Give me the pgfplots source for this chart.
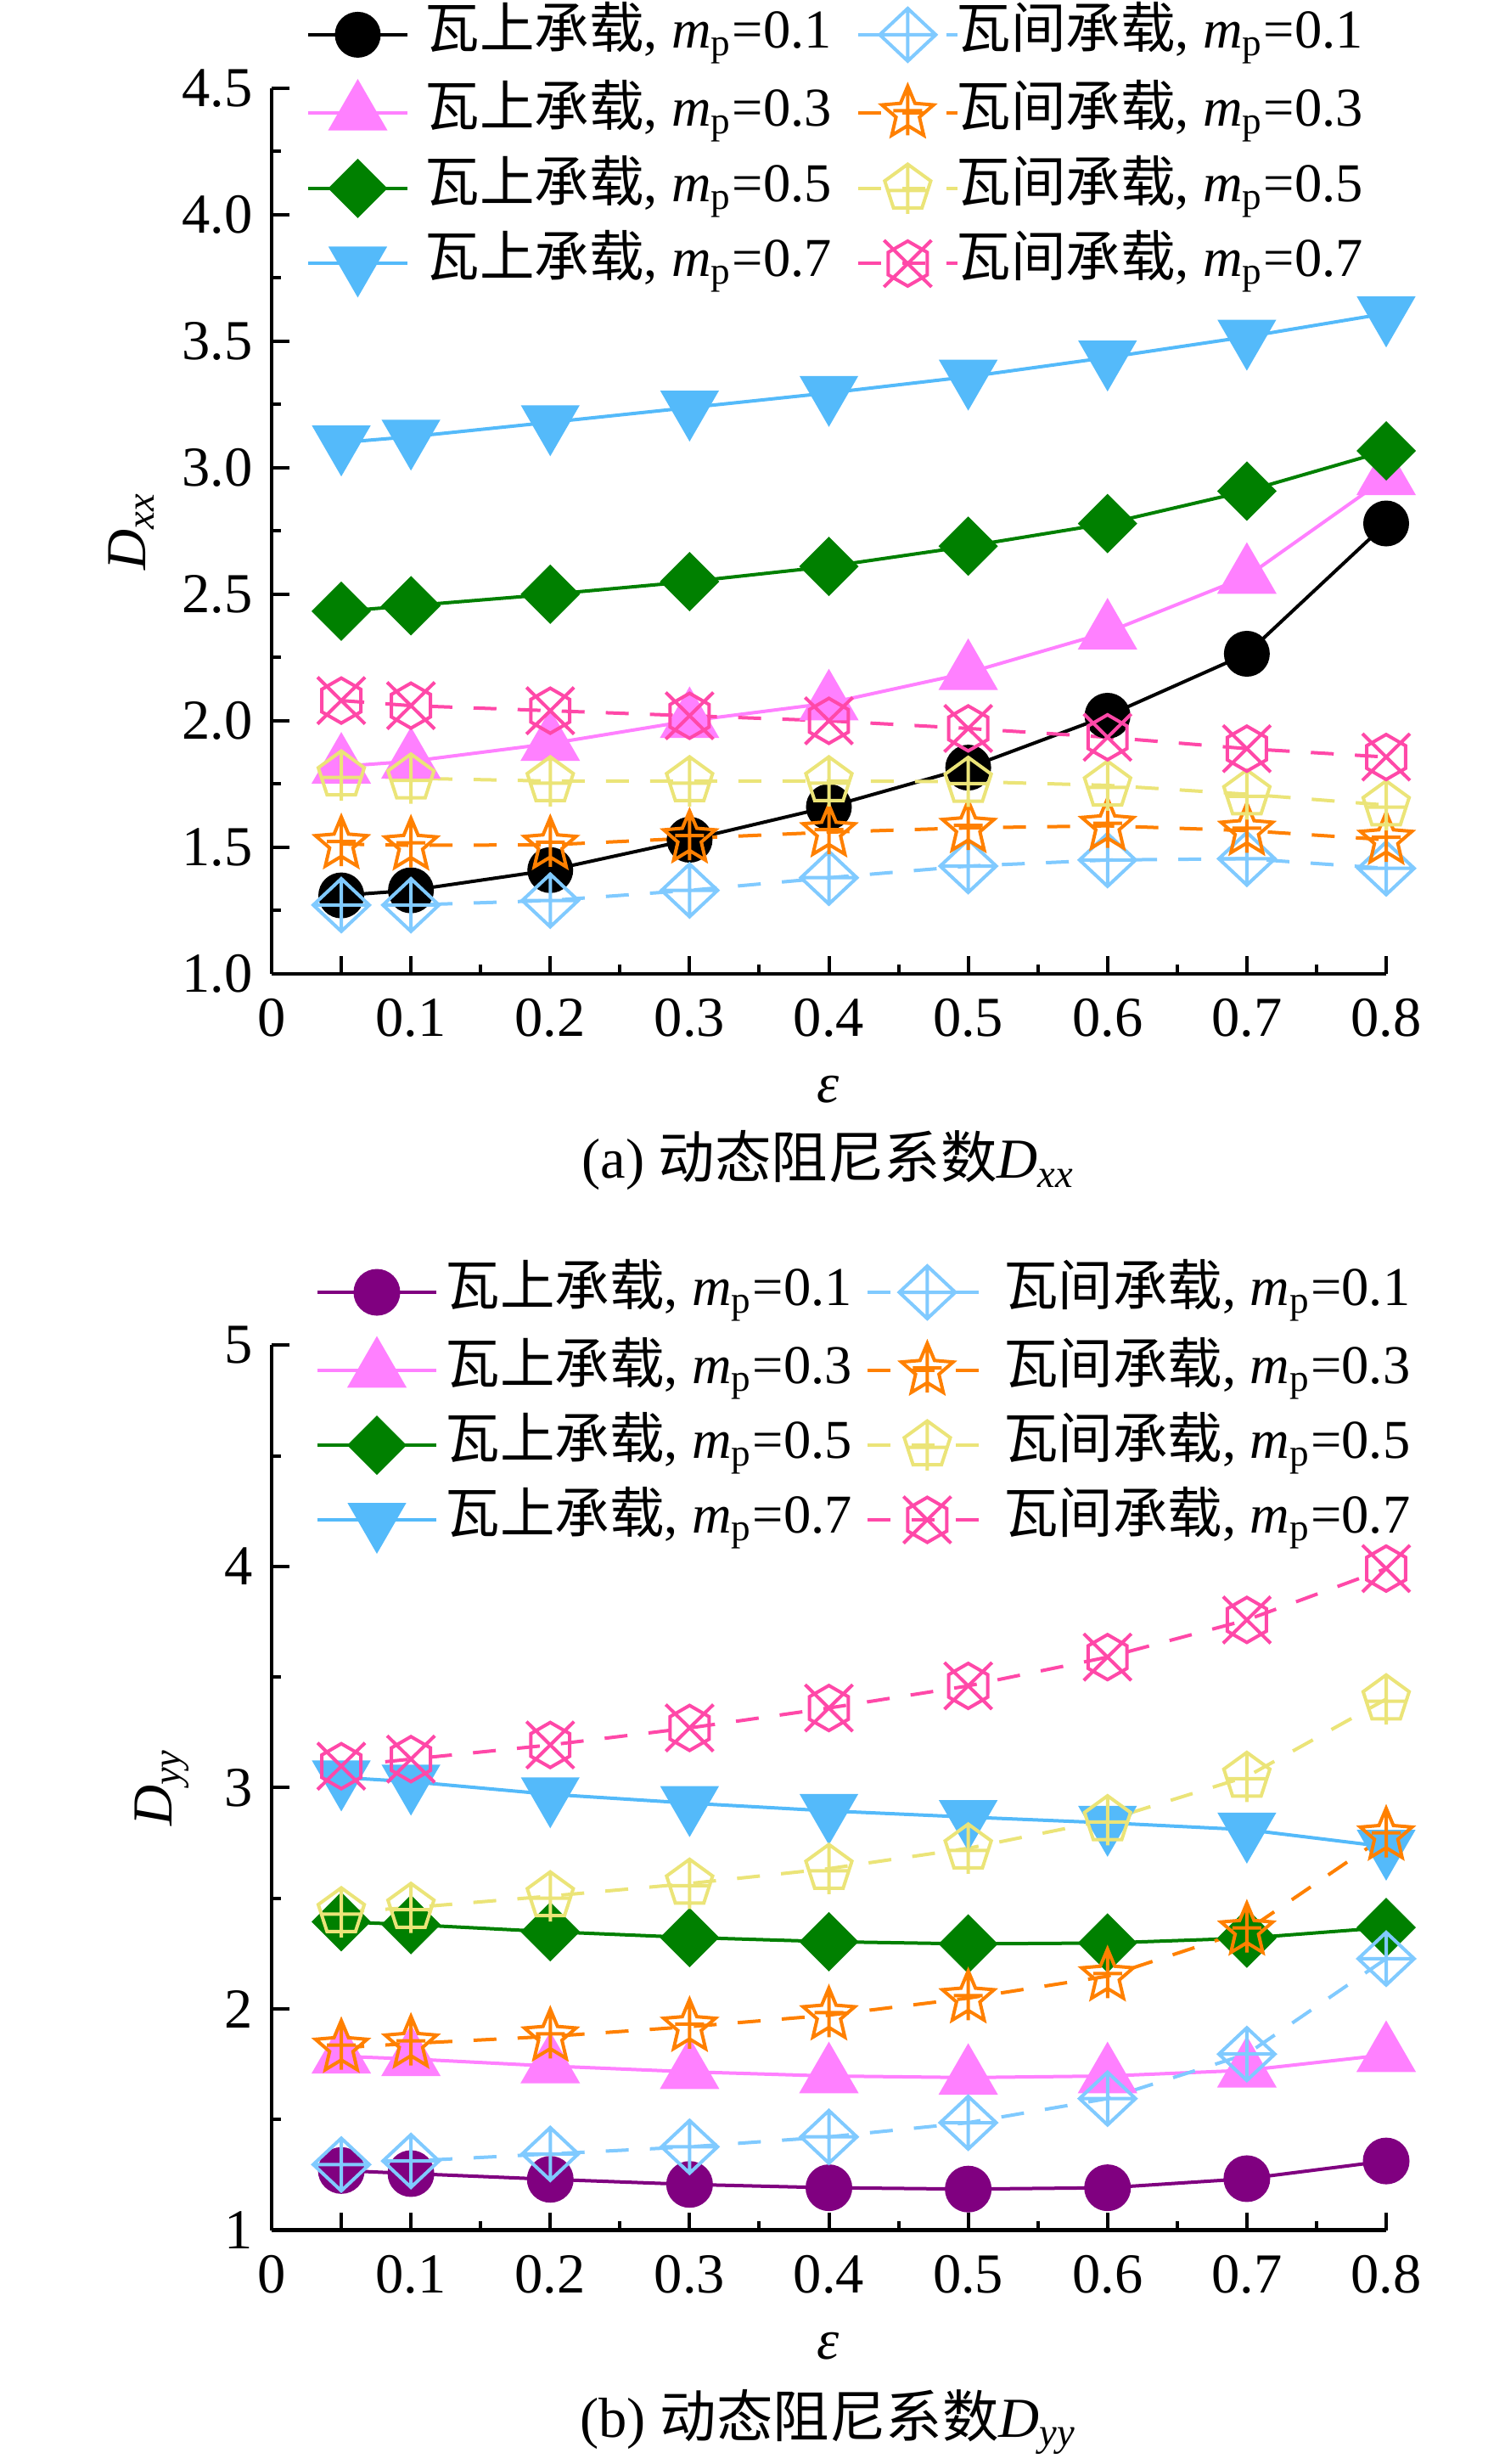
\documentclass[border=0pt]{standalone}
\usepackage{fontspec}
\setmainfont{Liberation Serif}
\newfontfamily\cjk{Noto Sans CJK SC}
\usepackage{pgfplots}
\pgfplotsset{compat=1.18}
\usetikzlibrary{plotmarks}

\definecolor{cblack}{RGB}{0,0,0}
\definecolor{cpink}{RGB}{255,128,255}
\definecolor{cgreen}{RGB}{0,128,0}
\definecolor{cblue}{RGB}{84,186,250}
\definecolor{clblue}{RGB}{128,202,255}
\definecolor{corange}{RGB}{255,128,0}
\definecolor{cyellow}{RGB}{235,228,120}
\definecolor{cmag}{RGB}{255,72,168}
\definecolor{cpurple}{RGB}{128,0,128}

% open diamond with plus
\pgfdeclareplotmark{odiap}{%
  \pgfpathmoveto{\pgfqpoint{0pt}{6.2pt}}%
  \pgfpathlineto{\pgfqpoint{6.6pt}{0pt}}%
  \pgfpathlineto{\pgfqpoint{0pt}{-6.2pt}}%
  \pgfpathlineto{\pgfqpoint{-6.6pt}{0pt}}%
  \pgfpathclose
  \pgfpathmoveto{\pgfqpoint{0pt}{6.2pt}}\pgfpathlineto{\pgfqpoint{0pt}{-6.2pt}}%
  \pgfpathmoveto{\pgfqpoint{-6.6pt}{0pt}}\pgfpathlineto{\pgfqpoint{6.6pt}{0pt}}%
  \pgfusepathqstroke}
% open star with plus
\pgfdeclareplotmark{ostarp}{%
  \pgfpathmoveto{\pgfqpoint{0pt}{6.4pt}}%
  \pgfpathlineto{\pgfqpoint{-1.705pt}{2.346pt}}%
  \pgfpathlineto{\pgfqpoint{-6.087pt}{1.978pt}}%
  \pgfpathlineto{\pgfqpoint{-2.758pt}{-0.896pt}}%
  \pgfpathlineto{\pgfqpoint{-3.762pt}{-5.178pt}}%
  \pgfpathlineto{\pgfqpoint{0pt}{-2.9pt}}%
  \pgfpathlineto{\pgfqpoint{3.762pt}{-5.178pt}}%
  \pgfpathlineto{\pgfqpoint{2.758pt}{-0.896pt}}%
  \pgfpathlineto{\pgfqpoint{6.087pt}{1.978pt}}%
  \pgfpathlineto{\pgfqpoint{1.705pt}{2.346pt}}%
  \pgfpathclose
  \pgfpathmoveto{\pgfqpoint{0pt}{6.4pt}}\pgfpathlineto{\pgfqpoint{0pt}{-5.2pt}}%
  \pgfpathmoveto{\pgfqpoint{-3.4pt}{0.6pt}}\pgfpathlineto{\pgfqpoint{3.4pt}{0.6pt}}%
  \pgfusepathqstroke}
% open pentagon with plus
\pgfdeclareplotmark{opentp}{%
  \pgfpathmoveto{\pgfqpoint{0pt}{5.7pt}}%
  \pgfpathlineto{\pgfqpoint{-5.421pt}{1.761pt}}%
  \pgfpathlineto{\pgfqpoint{-3.350pt}{-4.611pt}}%
  \pgfpathlineto{\pgfqpoint{3.350pt}{-4.611pt}}%
  \pgfpathlineto{\pgfqpoint{5.421pt}{1.761pt}}%
  \pgfpathclose
  \pgfpathmoveto{\pgfqpoint{0pt}{5.7pt}}\pgfpathlineto{\pgfqpoint{0pt}{-6.0pt}}%
  \pgfpathmoveto{\pgfqpoint{-4.69pt}{-0.5pt}}\pgfpathlineto{\pgfqpoint{4.69pt}{-0.5pt}}%
  \pgfusepathqstroke}
% open hexagon with cross
\pgfdeclareplotmark{ohexx}{%
  \pgfpathmoveto{\pgfqpoint{0pt}{5.3pt}}%
  \pgfpathlineto{\pgfqpoint{-4.59pt}{2.65pt}}%
  \pgfpathlineto{\pgfqpoint{-4.59pt}{-2.65pt}}%
  \pgfpathlineto{\pgfqpoint{0pt}{-5.3pt}}%
  \pgfpathlineto{\pgfqpoint{4.59pt}{-2.65pt}}%
  \pgfpathlineto{\pgfqpoint{4.59pt}{2.65pt}}%
  \pgfpathclose
  \pgfpathmoveto{\pgfqpoint{-5.6pt}{5.5pt}}\pgfpathlineto{\pgfqpoint{5.6pt}{-5.5pt}}%
  \pgfpathmoveto{\pgfqpoint{-5.6pt}{-5.5pt}}\pgfpathlineto{\pgfqpoint{5.6pt}{5.5pt}}%
  \pgfusepathqstroke}

\newcommand{\fs}{\fontsize{13.3}{16}\selectfont}
\newcommand{\lfs}{\fontsize{12.9}{15.5}\selectfont}
\newcommand{\ws}{{\cjk 瓦上承载}, \textit{m}\textsubscript{p}}
\newcommand{\wj}{{\cjk 瓦间承载}, \textit{m}\textsubscript{p}}

\pgfplotsset{
  common/.style={
    anchor=south west, width=262.6pt, scale only axis,
    xmin=0, xmax=0.8, clip=false,
    axis x line*=bottom, axis y line*=left,
    axis line style={line width=0.9pt},
    every tick/.style={black, line width=0.8pt},
    tick align=inside,
    major tick length=4.2pt, minor tick length=2.2pt,
    xtick={0,0.05,0.1,0.2,0.3,0.4,0.5,0.6,0.7,0.8},
    xticklabels={0,,0.1,0.2,0.3,0.4,0.5,0.6,0.7,0.8},
    minor xtick={0.15,0.25,0.35,0.45,0.55,0.65,0.75},
    tick label style={font=\fs},
    xticklabel style={yshift=-2.3pt},
    yticklabel style={xshift=-1pt},
    /pgf/number format/assume math mode=true,
    legend columns=4, transpose legend,
    legend cell align=left,
    every axis plot/.append style={line width=0.8pt},
  },
  ws/.style={solid, mark options={solid}},
  wj/.style={dash pattern=on 5.4pt off 5pt, mark options={solid, fill=none}},
}

\begin{document}
\begin{tikzpicture}
\path[use as bounding box] (0,0) rectangle (354.4pt,580.4pt);

% ---------------- (a) D_xx ----------------
\begin{axis}[common, at={(64pt,351pt)}, height=208.6pt,
  ymin=1, ymax=4.5,
  ytick={1,1.5,2,2.5,3,3.5,4,4.5},
  minor ytick={1.25,1.75,2.25,2.75,3.25,3.75,4.25},
  yticklabel style={/pgf/number format/.cd, fixed, fixed zerofill, precision=1},
  legend image code/.code={\draw[mark repeat=2,mark phase=2] plot coordinates {(0pt,0pt)(11.7pt,0pt)(23.4pt,0pt)};},
  legend style={draw=none, fill=none, inner sep=0pt, outer sep=0pt, font=\lfs,
    at={(axis description cs:0.0312,1.0916)}, anchor=north west,
    nodes={inner sep=0pt, text height=9.6pt, text depth=3.4pt},
    row sep=4.7pt,
    /tikz/column 1/.append style={column sep=3.8pt},
    /tikz/column 2/.append style={column sep=5.8pt},
    /tikz/column 3/.append style={column sep=-0.6pt}},
]
\addplot[ws, color=cblack, mark=*, mark size=5pt] coordinates {(0.05,1.31)(0.1,1.33)(0.2,1.41)(0.3,1.53)(0.4,1.66)(0.5,1.815)(0.6,2.02)(0.7,2.265)(0.8,2.78)};
\addlegendentry{\ws=0.1}
\addplot[ws, color=cpink, mark=triangle*, mark size=7.3pt] coordinates {(0.05,1.82)(0.1,1.84)(0.2,1.91)(0.3,2.0)(0.4,2.07)(0.5,2.19)(0.6,2.35)(0.7,2.57)(0.8,2.96)};
\addlegendentry{\ws=0.3}
\addplot[ws, color=cgreen, mark=square*, mark size=4.55pt, mark options={rotate=45}] coordinates {(0.05,2.433)(0.1,2.455)(0.2,2.50)(0.3,2.55)(0.4,2.61)(0.5,2.69)(0.6,2.78)(0.7,2.908)(0.8,3.067)};
\addlegendentry{\ws=0.5}
\addplot[ws, color=cblue, mark=triangle*, mark size=7.2pt, mark options={rotate=180}] coordinates {(0.05,3.10)(0.1,3.123)(0.2,3.18)(0.3,3.238)(0.4,3.296)(0.5,3.36)(0.6,3.436)(0.7,3.518)(0.8,3.61)};
\addlegendentry{\ws=0.7}
\addplot[wj, color=clblue, mark=odiap] coordinates {(0.05,1.272)(0.1,1.272)(0.2,1.29)(0.3,1.33)(0.4,1.38)(0.5,1.426)(0.6,1.45)(0.7,1.455)(0.8,1.417)};
\addlegendentry{\wj=0.1}
\addplot[wj, color=corange, mark=ostarp] coordinates {(0.05,1.513)(0.1,1.508)(0.2,1.51)(0.3,1.536)(0.4,1.56)(0.5,1.577)(0.6,1.585)(0.7,1.566)(0.8,1.53)};
\addlegendentry{\wj=0.3}
\addplot[wj, color=cyellow, mark=opentp] coordinates {(0.05,1.785)(0.1,1.773)(0.2,1.762)(0.3,1.762)(0.4,1.762)(0.5,1.76)(0.6,1.745)(0.7,1.71)(0.8,1.667)};
\addlegendentry{\wj=0.5}
\addplot[wj, color=cmag, mark=ohexx] coordinates {(0.05,2.08)(0.1,2.06)(0.2,2.04)(0.3,2.02)(0.4,2.00)(0.5,1.97)(0.6,1.935)(0.7,1.89)(0.8,1.857)};
\addlegendentry{\wj=0.7}
\end{axis}

% ---------------- (b) D_yy ----------------
\begin{axis}[common, at={(64pt,55.06pt)}, height=208.5pt,
  ymin=1, ymax=5,
  ytick={1,2,3,4,5},
  minor ytick={1.5,2.5,3.5,4.5},
  legend image code/.code={\draw[mark repeat=2,mark phase=2] plot coordinates {(0pt,0pt)(14pt,0pt)(28pt,0pt)};},
  legend style={draw=none, fill=none, inner sep=0pt, outer sep=0pt, font=\lfs,
    at={(axis description cs:0.0396,1.0908)}, anchor=north west,
    nodes={inner sep=0pt, text height=9.6pt, text depth=3.4pt},
    row sep=4.6pt,
    /tikz/column 1/.append style={column sep=1.8pt},
    /tikz/column 2/.append style={column sep=3.3pt},
    /tikz/column 3/.append style={column sep=3.6pt}},
]
\addplot[ws, color=cpurple, mark=*, mark size=5.1pt] coordinates {(0.05,1.27)(0.1,1.256)(0.2,1.23)(0.3,1.207)(0.4,1.192)(0.5,1.186)(0.6,1.192)(0.7,1.233)(0.8,1.313)};
\addlegendentry{\ws=0.1}
\addplot[ws, color=cpink, mark=triangle*, mark size=7.3pt] coordinates {(0.05,1.786)(0.1,1.774)(0.2,1.742)(0.3,1.716)(0.4,1.697)(0.5,1.69)(0.6,1.697)(0.7,1.723)(0.8,1.793)};
\addlegendentry{\ws=0.3}
\addplot[ws, color=cgreen, mark=square*, mark size=4.55pt, mark options={rotate=45}] coordinates {(0.05,2.394)(0.1,2.381)(0.2,2.349)(0.3,2.323)(0.4,2.304)(0.5,2.294)(0.6,2.298)(0.7,2.32)(0.8,2.368)};
\addlegendentry{\ws=0.5}
\addplot[ws, color=cblue, mark=triangle*, mark size=7.2pt, mark options={rotate=180}] coordinates {(0.05,3.046)(0.1,3.027)(0.2,2.97)(0.3,2.93)(0.4,2.895)(0.5,2.867)(0.6,2.841)(0.7,2.81)(0.8,2.733)};
\addlegendentry{\ws=0.7}
\addplot[wj, color=clblue, mark=odiap] coordinates {(0.05,1.297)(0.1,1.313)(0.2,1.345)(0.3,1.377)(0.4,1.422)(0.5,1.486)(0.6,1.595)(0.7,1.796)(0.8,2.227)};
\addlegendentry{\wj=0.1}
\addplot[wj, color=corange, mark=ostarp] coordinates {(0.05,1.825)(0.1,1.844)(0.2,1.876)(0.3,1.92)(0.4,1.972)(0.5,2.049)(0.6,2.148)(0.7,2.355)(0.8,2.784)};
\addlegendentry{\wj=0.3}
\addplot[wj, color=cyellow, mark=opentp] coordinates {(0.05,2.438)(0.1,2.458)(0.2,2.51)(0.3,2.567)(0.4,2.634)(0.5,2.726)(0.6,2.854)(0.7,3.05)(0.8,3.40)};
\addlegendentry{\wj=0.5}
\addplot[wj, color=cmag, mark=ohexx] coordinates {(0.05,3.097)(0.1,3.129)(0.2,3.193)(0.3,3.27)(0.4,3.36)(0.5,3.46)(0.6,3.59)(0.7,3.758)(0.8,3.99)};
\addlegendentry{\wj=0.7}
\end{axis}

% labels
\node[font=\fs] at (195.2pt,323.8pt) {\textit{ε}};
\node[font=\fs, anchor=base] at (195.2pt,302.8pt) {(a) {\cjk 动态阻尼系数}\textit{D}\textsubscript{\textit{xx}}};
\node[font=\fs, rotate=90, anchor=base] at (34.2pt,455.3pt) {\textit{D}\textsubscript{\textit{xx}}};

\node[font=\fs] at (195.2pt,27.8pt) {\textit{ε}};
\node[font=\fs, anchor=base] at (195.2pt,6.4pt) {(b) {\cjk 动态阻尼系数}\textit{D}\textsubscript{\textit{yy}}};
\node[font=\fs, rotate=90, anchor=base] at (40.4pt,159.4pt) {\textit{D}\textsubscript{\textit{yy}}};
\end{tikzpicture}
\end{document}
